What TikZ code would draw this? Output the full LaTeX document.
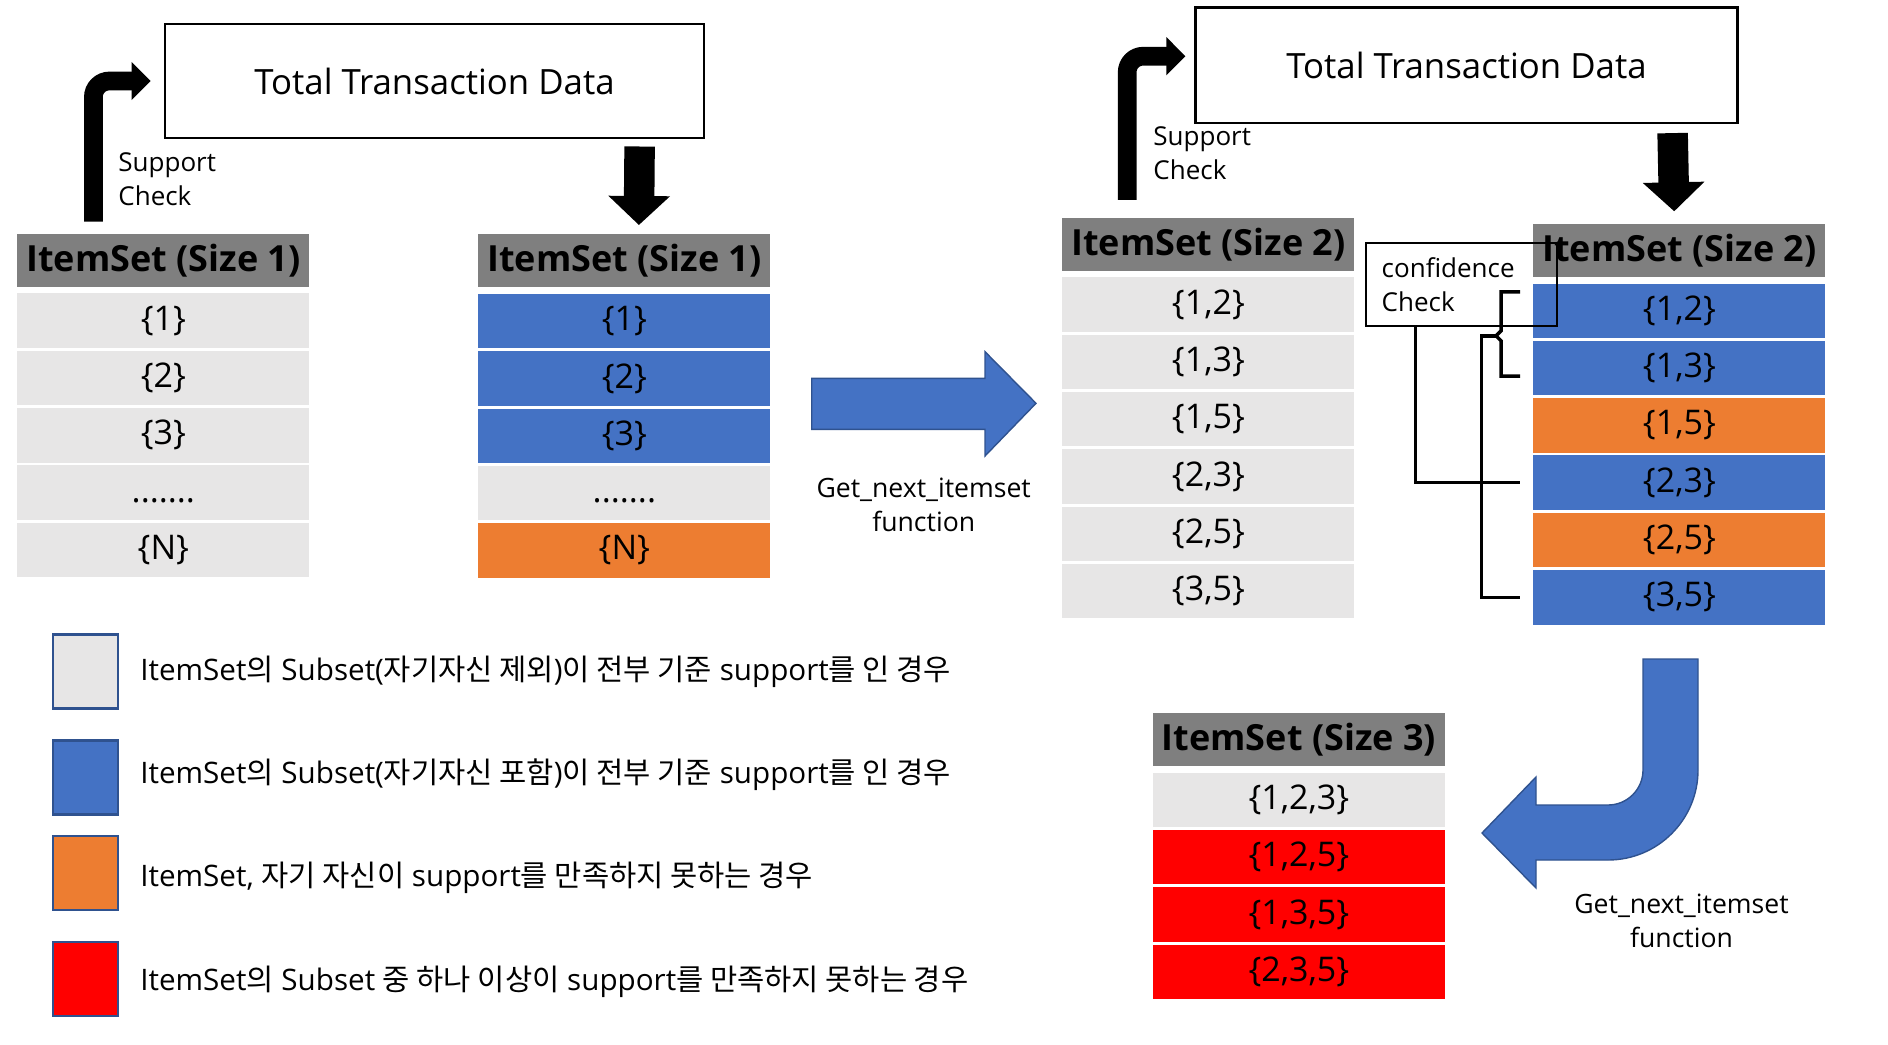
\documentclass[tikz,border=0pt]{standalone}
\usepackage{fontspec}
\setmainfont{Open Sans}
\newfontfamily\krfont{Noto Sans CJK KR}[Scale=1.0]
\newcommand{\krtext}[1]{{\krfont #1}}
\newcommand{\dotrow}{\vphantom{\{\}}.......}
\usetikzlibrary{positioning, arrows.meta, calc}

\definecolor{cellgray}{HTML}{E7E6E6}
\definecolor{cellblue}{HTML}{4472C4}
\definecolor{cellorange}{HTML}{ED7D31}
\definecolor{cellred}{HTML}{FF0000}
\definecolor{hdrgray}{HTML}{7F7F7F}
\definecolor{edgeblue}{HTML}{2F528F}

\begin{document}
\begin{tikzpicture}[
    x=0.5pt, y=-0.5pt,
    cell/.style={rectangle, anchor=north west, inner sep=0pt, minimum width=146pt,
        minimum height=27.25pt, font=\fontsize{17}{20}\selectfont},
    hdr/.style={cell, minimum height=26.5pt, fill=hdrgray, font=\bfseries\fontsize{18}{21}\selectfont},
    databox/.style={rectangle, draw, line width=1.1pt, inner sep=0pt, font=\fontsize{17.4}{20}\selectfont},
    blkup/.style={line width=9.35pt, rounded corners=8pt, -{Triangle[length=9.5pt, width=18.5pt]}},
    blkdown/.style={line width=15.25pt, -{Triangle[length=14.5pt, width=30pt]}},
    bluearrow/.style={fill=cellblue, draw=edgeblue, line width=0.7pt},
    note/.style={align=left, inner sep=0pt, font=\fontsize{13}{17}\selectfont},
    fnlabel/.style={align=center, inner sep=0pt, font=\fontsize{13.3}{17}\selectfont},
    link/.style={line width=1.75pt},
    legbox/.style={rectangle, draw=edgeblue, line width=1.2pt, minimum width=32.4pt, minimum height=37pt, inner sep=0pt},
    legtext/.style={anchor=base west, inner sep=0pt, font=\fontsize{14.8}{17}\selectfont}
]
\useasboundingbox (0,0) rectangle (1888,1044);

% --- Total Transaction Data ---
\node[databox, minimum width=269.5pt, minimum height=57pt] (box1) at (434.5,81) {Total Transaction Data};
\node[databox, minimum width=271pt, minimum height=57.8pt] (box2) at (1466.5,65.2) {Total Transaction Data};

% --- ItemSet (Size 1), before check ---
\node[hdr] (t1h) at (17,233.5) {ItemSet (Size 1)};
\foreach \txt [count=\i] in {{\{1\}},{\{2\}},{\{3\}},{\dotrow},{\{N\}}}
    \node[cell, fill=cellgray] (t1r\i) at (17,{293+(\i-1)*57.3}) {\txt};

% --- ItemSet (Size 1), after check ---
\node[hdr] (t2h) at (478,234) {ItemSet (Size 1)};
\foreach \txt/\col [count=\i] in {{\{1\}}/cellblue,{\{2\}}/cellblue,{\{3\}}/cellblue,{\dotrow}/cellgray,{\{N\}}/cellorange}
    \node[cell, fill=\col] (t2r\i) at (478,{293.5+(\i-1)*57.3}) {\txt};

% --- ItemSet (Size 2), before check ---
\node[hdr] (t3h) at (1062,217.4) {ItemSet (Size 2)};
\foreach \txt [count=\i] in {{\{1,2\}},{\{1,3\}},{\{1,5\}},{\{2,3\}},{\{2,5\}},{\{3,5\}}}
    \node[cell, fill=cellgray] (t3r\i) at (1062,{276.9+(\i-1)*57.3}) {\txt};

% --- ItemSet (Size 2), after check ---
\node[hdr] (t4h) at (1533,223.6) {ItemSet (Size 2)};
\foreach \txt/\col [count=\i] in {{\{1,2\}}/cellblue,{\{1,3\}}/cellblue,{\{1,5\}}/cellorange,{\{2,3\}}/cellblue,{\{2,5\}}/cellorange,{\{3,5\}}/cellblue}
    \node[cell, fill=\col] (t4r\i) at (1533,{283.1+(\i-1)*57.3}) {\txt};

% --- ItemSet (Size 3) ---
\node[hdr] (t5h) at (1152.5,712.7) {ItemSet (Size 3)};
\foreach \txt/\col [count=\i] in {{\{1,2,3\}}/cellgray,{\{1,2,5\}}/cellred,{\{1,3,5\}}/cellred,{\{2,3,5\}}/cellred}
    \node[cell, fill=\col] (t5r\i) at (1152.5,{772.2+(\i-1)*57.3}) {\txt};

% --- Support Check ---
\draw[blkup] ($(t1h.north west)+(76.4,-11.8)$) |- ($(box1.west)+(-13.3,0)$);
\node[note, anchor=north west] (sup1) at (118,152) {Support\\Check};
\draw[blkdown] ($(box1.south east)+(-65.5,7.4)$) -- ($(t2h.north)+(14.5,-9)$);

\draw[blkup] ($(t3h.north west)+(65.2,-17.6)$) |- ($(box2.west)+(-9,-9)$);
\node[note, anchor=north west] (sup2) at (1153,126.5) {Support\\Check};
\draw[blkdown] ($(box2.south east)+(-66,9)$) -- ($(t4h.north)+(-5.2,-12.3)$);

% --- Get_next_itemset (Size 1 -> Size 2) ---
\filldraw[bluearrow] (811.7,378.3) -- (985,378.3) -- (985,351.7) -- (1036,403.3)
    -- (985,456) -- (985,429.3) -- (811.7,429.3) -- cycle;
\node[fnlabel, anchor=north] (fn1) at (923.7,478) {Get\_next\_itemset\\function};

% --- confidence Check ---
\node[rectangle, draw, line width=1pt, minimum width=95.65pt, minimum height=41.35pt,
    inner xsep=7.85pt, inner ysep=0pt, text width=79.95pt, align=left,
    font=\fontsize{13}{17}\selectfont] (conf) at (1461.65,284.65) {confidence\\Check};
\coordinate (brA) at ($(t4r1.west)+(-13,-19)$);
\coordinate (brB) at ($(t4r2.west)+(-13,8)$);
\draw[link] (brA) -- ++(-19,0) -- ++(0,39) -- ++(-5,5) coordinate (brmid) -- ++(5,5) |- (brB);
\draw[link] (brmid) -- ++(-14.3,0) |- ([xshift=-6.5pt]t4r6.west);
\draw[link] ([xshift=-23pt]conf.south) |- ([xshift=-6.5pt]t4r4.west);

% --- Get_next_itemset (Size 2 -> Size 3) ---
\filldraw[bluearrow] (1643,659) -- (1698,659) -- (1698,770) arc(0:-90:45pt)
    -- (1536,860) -- (1536,888) -- (1482,833) -- (1536,777) -- (1536,805)
    -- (1608,805) arc(-90:0:17.5pt) -- cycle;
\node[fnlabel, anchor=north] (fn2) at (1681.5,894) {Get\_next\_itemset\\function};

% --- Legend ---
\node[legbox, fill=cellgray] (leg1) at (85.6,671.3) {};
\node[legbox, fill=cellblue] (leg2) at (85.6,777.3) {};
\node[legbox, fill=cellorange] (leg3) at (85.6,873.2) {};
\node[legbox, fill=cellred] (leg4) at (85.6,978.9) {};

\node[legtext] (lt1) at (140,680) {ItemSet\krtext{의} Subset(\krtext{자기자신 제외})\krtext{이 전부 기준} support\krtext{를 인 경우}};
\node[legtext] (lt2) at (140,783) {ItemSet\krtext{의} Subset(\krtext{자기자신 포함})\krtext{이 전부 기준} support\krtext{를 인 경우}};
\node[legtext] (lt3) at (140,886) {ItemSet, \krtext{자기 자신이} support\krtext{를 만족하지 못하는 경우}};
\node[legtext] (lt4) at (140,990) {ItemSet\krtext{의} Subset \krtext{중 하나 이상이} support\krtext{를 만족하지 못하는 경우}};

\end{tikzpicture}
\end{document}
